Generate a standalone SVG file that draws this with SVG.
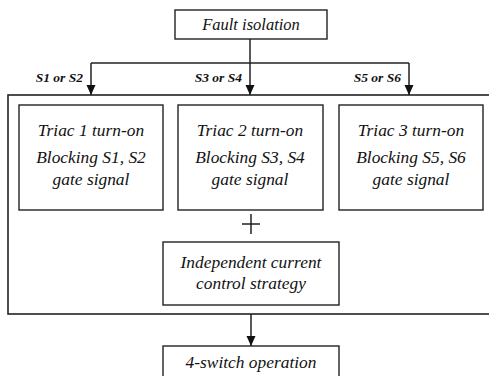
<svg xmlns="http://www.w3.org/2000/svg" width="489" height="376" viewBox="0 0 489 376">
<defs>
<marker id="arr" markerWidth="10" markerHeight="11" refX="10" refY="5" orient="auto" markerUnits="userSpaceOnUse">
<path d="M0,0.5 L10,5 L0,9.5 Z" fill="#111"/>
</marker>
<style>
.box{fill:#fff;stroke:#222;stroke-width:1.4}
.frame{fill:none;stroke:#222;stroke-width:1.6}
.ln{fill:none;stroke:#222;stroke-width:1.5}
.t{font-family:"Liberation Serif","Times New Roman",serif;font-style:italic;font-size:17.4px;fill:#111;text-anchor:middle}
.lb{font-family:"Liberation Serif","Times New Roman",serif;font-style:italic;font-weight:bold;font-size:13.5px;fill:#111;text-anchor:end}
</style>
</defs>
<rect width="489" height="376" fill="#fff"/>
<g id="frame"><rect class="frame" x="8" y="95" width="486" height="219"/></g>
<g id="connectors">
<path class="ln" d="M250,39 V63"/>
<path class="ln" d="M91,63 H409"/>
<path class="ln" d="M91,63 V95" marker-end="url(#arr)"/>
<path class="ln" d="M250,63 V95" marker-end="url(#arr)"/>
<path class="ln" d="M409,63 V95" marker-end="url(#arr)"/>
<path class="ln" d="M251,314 V346" marker-end="url(#arr)"/>
<text class="lb" x="83" y="82">S1 or S2</text>
<text class="lb" x="242" y="82">S3 or S4</text>
<text class="lb" x="401" y="82">S5 or S6</text>
</g>
<g id="fault"><rect class="box" x="175" y="10" width="152" height="29"/><text class="t" x="251" y="30" style="font-size:16.5px">Fault isolation</text></g>
<g id="triac1"><rect class="box" x="19" y="105" width="144" height="105"/>
<text class="t" x="91" y="136">Triac 1 turn-on</text><text class="t" x="91" y="163">Blocking S1, S2</text><text class="t" x="91" y="185">gate signal</text></g>
<g id="triac2"><rect class="box" x="178" y="105" width="145" height="105"/>
<text class="t" x="250" y="136">Triac 2 turn-on</text><text class="t" x="250" y="163">Blocking S3, S4</text><text class="t" x="250" y="185">gate signal</text></g>
<g id="triac3"><rect class="box" x="339" y="105" width="144" height="105"/>
<text class="t" x="411" y="136">Triac 3 turn-on</text><text class="t" x="411" y="163">Blocking S5, S6</text><text class="t" x="411" y="185">gate signal</text></g>
<g id="plus"><path class="ln" d="M242,224 H260 M251,214 V234" stroke-width="1.2"/></g>
<g id="independent"><rect class="box" x="163" y="242" width="176" height="63"/>
<text class="t" x="251" y="268">Independent current</text><text class="t" x="251" y="289">control strategy</text></g>
<g id="fourswitch"><rect class="box" x="163" y="346" width="176" height="40"/><text class="t" x="251" y="368">4-switch operation</text></g>
</svg>
